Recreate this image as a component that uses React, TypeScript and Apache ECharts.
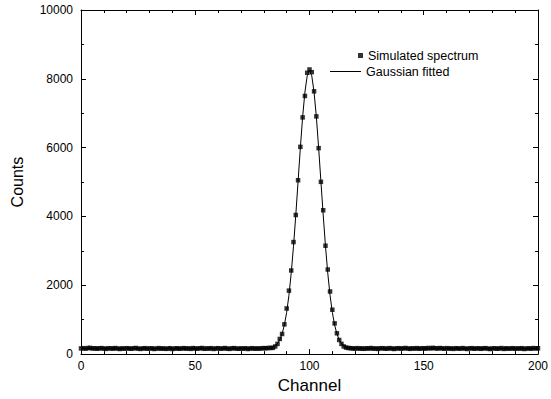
import React, { useEffect, useRef } from "react";
import * as echarts from "echarts";

// Channel numbers 0..200 (x positions of the spectrum bins)
const channels: number[] = Array.from({ length: 201 }, (_, i) => i);

// Simulated spectrum counts, channel 0..200
const simulated: number[] = [
  165, 172, 158, 176, 181, 163, 170, 155, 168, 174,
  160, 152, 171, 166, 159, 175, 162, 149, 167, 158,
  171, 163, 156, 168, 177, 160, 151, 165, 172, 158,
  163, 169, 150, 161, 174, 157, 166, 153, 160, 171,
  148, 162, 170, 156, 164, 173, 159, 167, 152, 175,
  163, 158, 169, 177, 154, 166, 161, 172, 150, 164,
  171, 157, 163, 176, 159, 152, 168, 174, 161, 155,
  166, 158, 170, 149, 163, 172, 157, 165, 160, 168,
  174, 169, 178, 180,
  182, 222, 297, 441, 585, 865, 1326, 1844, 2430, 3256,
  4043, 5052, 6023, 6879, 7502, 8176, 8271, 8193, 7637, 6908,
  5985, 5006, 4180, 3150, 2458, 1820, 1290, 893, 605, 410,
  297, 222, 190, 178,
  171, 165, 160, 173, 158, 167, 154, 170, 162, 176, 159, 165,
  151, 168, 172, 160, 157, 174, 163, 149, 166, 171,
  158, 165, 177, 162, 153, 169, 160, 174, 156, 167,
  171, 159, 178, 165, 182, 170, 161, 176, 168, 155,
  173, 160, 166, 152, 171, 164, 158, 175, 162, 150,
  167, 172, 157, 163, 169, 154, 166, 173, 160, 148,
  164, 170, 156, 162, 175, 151, 168, 159, 163, 171,
  155, 166, 160, 172, 149, 163, 168, 158, 174, 165,
  170,
];

// Gaussian fitted curve values, channel 0..200
const fitted: number[] = [
  160, 160, 160, 160, 160, 160, 160, 160, 160, 160,
  160, 160, 160, 160, 160, 160, 160, 160, 160, 160,
  160, 160, 160, 160, 160, 160, 160, 160, 160, 160,
  160, 160, 160, 160, 160, 160, 160, 160, 160, 160,
  160, 160, 160, 160, 160, 160, 160, 160, 160, 160,
  160, 160, 160, 160, 160, 160, 160, 160, 160, 160,
  160, 160, 160, 160, 160, 160, 160, 160, 160, 160,
  160, 160, 160, 160, 160, 160, 160, 160, 160, 160,
  162, 165, 171, 182, 203, 242, 308, 417, 589, 844,
  1211, 1708, 2351, 3136, 4041, 5017, 5996, 6892, 7616, 8087,
  8250,
  8087, 7616, 6892, 5996, 5017, 4041, 3136, 2351, 1708, 1211,
  844, 589, 417, 308, 242, 203, 182, 171, 165, 162,
  160, 160, 160, 160, 160, 160, 160, 160, 160, 160,
  160, 160, 160, 160, 160, 160, 160, 160, 160, 160,
  160, 160, 160, 160, 160, 160, 160, 160, 160, 160,
  160, 160, 160, 160, 160, 160, 160, 160, 160, 160,
  160, 160, 160, 160, 160, 160, 160, 160, 160, 160,
  160, 160, 160, 160, 160, 160, 160, 160, 160, 160,
  160, 160, 160, 160, 160, 160, 160, 160, 160, 160,
  160, 160, 160, 160, 160, 160, 160, 160, 160, 160,
];

const FONT = "'Liberation Sans', Arial, Helvetica, sans-serif";

export default function App() {
  const ref = useRef<HTMLDivElement>(null);

  useEffect(() => {
    if (!ref.current) return;
    const chart = echarts.init(ref.current, undefined, { renderer: "svg" });

    const axisLine = { show: true, onZero: false, lineStyle: { color: "#000", width: 1 } };
    const axisTick = { show: true, inside: true, length: 5, lineStyle: { color: "#000", width: 1 } };
    const minorTickStyle = { show: true, length: 3, lineStyle: { color: "#000", width: 1 } };
    const plain = (v: number) => String(v);

    chart.setOption({
      animation: false,
      backgroundColor: "#fff",
      textStyle: { fontFamily: FONT },
      grid: { left: 81, right: 10, top: 10, bottom: 42, containLabel: false },
      legend: [
        {
          data: [{ name: "Simulated spectrum", icon: "rect" }],
          left: 358,
          top: 49,
          padding: 0,
          itemWidth: 5,
          itemHeight: 5,
          textStyle: { fontSize: 12.5, color: "#000", fontFamily: FONT },
          selectedMode: false,
        },
        {
          data: [{ name: "Gaussian fitted", icon: "rect" }],
          left: 330,
          top: 65,
          padding: 0,
          itemWidth: 31,
          itemHeight: 1,
          textStyle: { fontSize: 12.5, color: "#000", fontFamily: FONT },
          selectedMode: false,
        },
      ],
      xAxis: [
        {
          type: "value",
          position: "bottom",
          min: 0,
          max: 200,
          interval: 50,
          minorTick: { ...minorTickStyle, splitNumber: 5 },
          axisLine,
          axisTick,
          splitLine: { show: false },
          axisLabel: { show: true, color: "#000", fontSize: 12, margin: 6, fontFamily: FONT, formatter: plain },
          name: "Channel",
          nameLocation: "middle",
          nameGap: 20,
          nameTextStyle: { fontSize: 17, color: "#000", fontFamily: FONT },
        },
        {
          type: "value",
          position: "top",
          min: 0,
          max: 200,
          interval: 50,
          minorTick: { ...minorTickStyle, splitNumber: 5 },
          axisLine,
          axisTick,
          splitLine: { show: false },
          axisLabel: { show: false },
        },
      ],
      yAxis: [
        {
          type: "value",
          position: "left",
          min: 0,
          max: 10000,
          interval: 2000,
          minorTick: { ...minorTickStyle, splitNumber: 2 },
          axisLine,
          axisTick,
          splitLine: { show: false },
          axisLabel: { show: true, color: "#000", fontSize: 12, margin: 8, fontFamily: FONT, formatter: plain },
          name: "Counts",
          nameLocation: "middle",
          nameGap: 56,
          nameTextStyle: { fontSize: 16, color: "#000", fontFamily: FONT },
        },
        {
          type: "value",
          position: "right",
          min: 0,
          max: 10000,
          interval: 2000,
          minorTick: { ...minorTickStyle, splitNumber: 2 },
          axisLine,
          axisTick,
          splitLine: { show: false },
          axisLabel: { show: false },
        },
      ],
      series: [
        {
          name: "Gaussian fitted",
          type: "line",
          xAxisIndex: 0,
          yAxisIndex: 0,
          data: channels.map((c, i) => [c, fitted[i]]),
          symbol: "none",
          showSymbol: false,
          lineStyle: { color: "#000", width: 1 },
          itemStyle: { color: "#000" },
          z: 2,
        },
        {
          name: "Simulated spectrum",
          type: "scatter",
          xAxisIndex: 0,
          yAxisIndex: 0,
          data: channels.map((c, i) => [c, simulated[i]]),
          symbol: "rect",
          symbolSize: 4.5,
          itemStyle: { color: "#000" },
          z: 3,
        },
      ],
    });

    return () => {
      chart.dispose();
    };
  }, []);

  return (
    <div
      ref={ref}
      style={{ position: "fixed", left: 0, top: 0, width: 551, height: 399, background: "#fff" }}
    />
  );
}
